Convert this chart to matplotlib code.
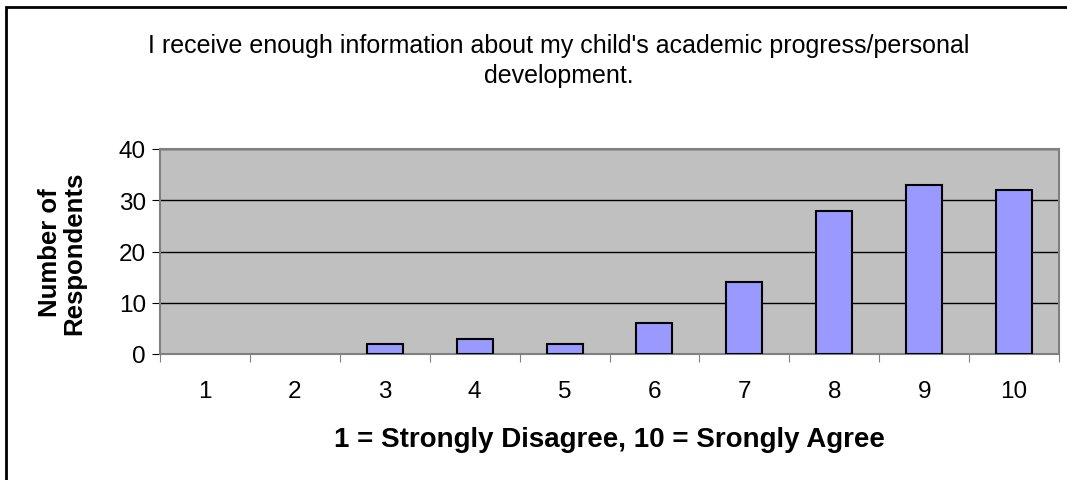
import matplotlib.pyplot as plt
from matplotlib.patches import Rectangle

categories = ['1', '2', '3', '4', '5', '6', '7', '8', '9', '10']
respondents = [0, 0, 2, 3, 2, 6, 14, 28, 33, 32]
y_ticks = [0, 10, 20, 30, 40]

title = "I receive enough information about my child's academic progress/personal\ndevelopment."
xlabel = '1 = Strongly Disagree, 10 = Srongly Agree'
ylabel = 'Number of\nRespondents'

plt.rcParams['font.family'] = ['Liberation Sans', 'DejaVu Sans']

W, H = 1067, 481
fig = plt.figure(figsize=(W / 100, H / 100), dpi=100)
# outer chart border: only top and left edges fall inside the image
fig.patches.append(Rectangle((5.5 / W, -20 / H), 1100 / W, (H - 8 + 20) / H,
                             transform=fig.transFigure, fill=False,
                             edgecolor='black', linewidth=2))

ax = fig.add_axes([160 / W, 1 - 355 / H, 899 / W, 205 / H])
ax.set_facecolor('#C0C0C0')
for s in ax.spines.values():
    s.set_color('#808080')
    s.set_linewidth(1.5)

x = list(range(len(categories)))
bars = ax.bar(x, respondents, width=0.4, color='#9999FF', edgecolor='black',
              linewidth=1.5, zorder=3)
for b in bars:
    if b.get_height() == 0:
        b.set_visible(False)

ax.set_xlim(-0.5, len(categories) - 0.5)
ax.set_ylim(0, 40)
ax.set_yticks(y_ticks)
ax.yaxis.grid(True, color='black', linewidth=1, zorder=1)
ax.set_axisbelow(True)
ax.tick_params(axis='y', labelsize=17.5, length=6, color='black', pad=4)

ax.set_xticks([i - 0.5 for i in range(len(categories) + 1)])
ax.set_xticklabels([])
ax.set_xticks(x, minor=True)
ax.set_xticklabels(categories, minor=True)
ax.tick_params(axis='x', which='major', length=6, color='#808080')
ax.tick_params(axis='x', which='minor', length=0, labelsize=17.5, pad=19)

fig.text(609.5 / W, 1 - 440 / H, xlabel, fontsize=20, fontweight='bold',
         ha='center', va='center')
fig.text(62 / W, 1 - 253 / H, ylabel, rotation=90, fontsize=18.5,
         fontweight='bold', ha='center', va='center', linespacing=1.0)

fig.text(559 / W, 1 - 61 / H, title, fontsize=18, ha='center',
         va='center', linespacing=1.35)

fig.savefig('out.png', dpi=100)
